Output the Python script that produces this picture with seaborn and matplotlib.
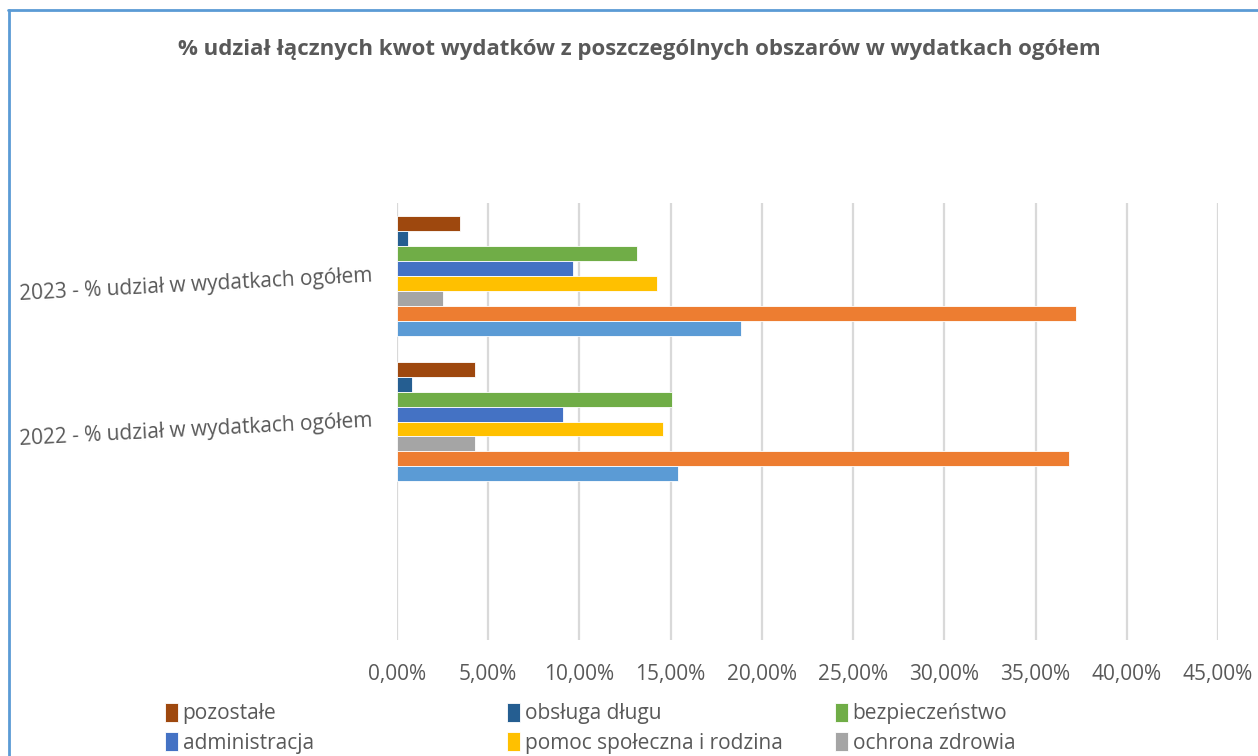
import matplotlib
matplotlib.use("Agg")
import matplotlib.pyplot as plt
import seaborn as sns
import pandas as pd
from matplotlib.ticker import FuncFormatter, MultipleLocator
from matplotlib.lines import Line2D

# ---- data ----
categories = ["2023 - % udział w wydatkach ogółem", "2022 - % udział w wydatkach ogółem"]
series = ["pozostałe", "obsługa długu", "bezpieczeństwo", "administracja",
          "pomoc społeczna i rodzina", "ochrona zdrowia",
          "oświata i wychowanie", "gospodarka komunalna"]
values_2023 = [3.47, 0.60, 13.16, 9.63, 14.24, 2.52, 37.20, 18.88]
values_2022 = [4.30, 0.83, 15.05, 9.08, 14.57, 4.30, 36.85, 15.40]
colors = ["#9E480E", "#255E91", "#70AD47", "#4472C4", "#FFC000", "#A5A5A5", "#ED7D31", "#5B9BD5"]
legend_series = series[:6]

rows = []
for cat, vals in zip(categories, [values_2023, values_2022]):
    for s, v in zip(series, vals):
        rows.append({"kategoria": cat, "obszar": s, "wartosc": v})
df = pd.DataFrame(rows)

sns.set_theme(style="white")
plt.rcParams["font.family"] = ["Open Sans", "DejaVu Sans"]
txt = "#595959"

fig = plt.figure(figsize=(12.58, 7.56), dpi=100)
ax = fig.add_axes([397/1258, 1-640/756, (1218-397)/1258, (640-203)/756])

sns.barplot(data=df, y="kategoria", x="wartosc", hue="obszar", order=categories,
            hue_order=series, palette=colors, orient="h", width=0.82, ax=ax,
            saturation=1, edgecolor="white", linewidth=0.6, legend=True)

ax.set_xlim(0, 45)
ax.set_ylim(2.5, -0.5)
ax.xaxis.set_major_locator(MultipleLocator(5))
ax.xaxis.set_major_formatter(FuncFormatter(lambda v, p: f"{v:.2f}%".replace(".", ",")))
ax.grid(axis="x", color="#D9D9D9", linewidth=1.6)
ax.grid(axis="y", visible=False)
ax.set_axisbelow(True)
for sp in ax.spines.values():
    sp.set_visible(False)
ax.set_xlabel("")
ax.set_ylabel("")
ax.tick_params(axis="x", length=0, pad=17, labelsize=15, labelcolor=txt)
ax.tick_params(axis="y", length=0, pad=18, labelsize=15, labelcolor=txt)
for lab in ax.get_yticklabels():
    lab.set_rotation(3)
    lab.set_rotation_mode("anchor")
    lab.set_ha("right")
    lab.set_va("center")

handles, labels = ax.get_legend_handles_labels()
ax.get_legend().remove()
hmap = dict(zip(labels, handles))

col_x = [165/1258, 507/1258, 835/1258]
for c in range(3):
    hs = [hmap[legend_series[c]], hmap[legend_series[c + 3]]]
    ls = [legend_series[c], legend_series[c + 3]]
    leg = fig.legend(hs, ls, loc="upper left", bbox_to_anchor=(col_x[c], 1 - 703/756),
                     frameon=False, fontsize=15, handlelength=0.6, handleheight=1.0,
                     handletextpad=0.25, labelspacing=0.38, borderpad=0, borderaxespad=0)
    for t in leg.get_texts():
        t.set_color(txt)

fig.text(639/1258, 1 - 50/756, "% udział łącznych kwot wydatków z poszczególnych obszarów w wydatkach ogółem",
         ha="center", va="center", fontsize=16, fontweight="bold", color=txt)

# chart border (blue frame)
border = "#5B9BD5"
fig.add_artist(Line2D([9/1258, 9/1258], [0, 1 - 10/756], transform=fig.transFigure, color=border, lw=2))
fig.add_artist(Line2D([8/1258, 1], [1 - 10/756, 1 - 10/756], transform=fig.transFigure, color=border, lw=2))

fig.savefig("out.png", dpi=100, facecolor="white")
